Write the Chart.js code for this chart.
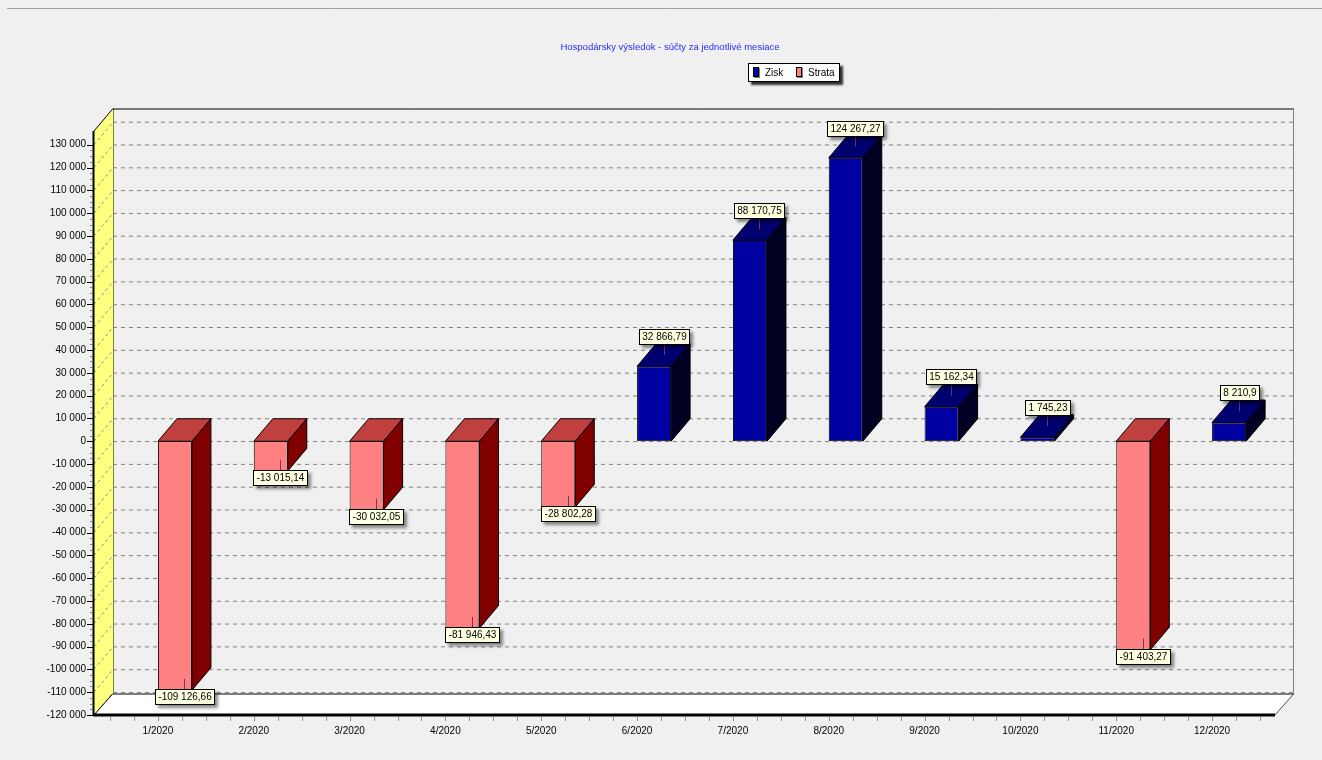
<!DOCTYPE html>
<html>
<head>
<meta charset="utf-8">
<title>Hospodársky výsledok</title>
<script src="https://cdn.jsdelivr.net/npm/chart.js@4.4.0/dist/chart.umd.min.js"></script>
<style>
  html, body { margin: 0; padding: 0; background: #f0f0f0; overflow: hidden; }
  #wrap { position: absolute; left: 0; top: 0; width: 1322px; height: 760px; }
</style>
</head>
<body>
<div id="wrap"><canvas id="hvChart" width="1322" height="760"></canvas></div>
<script>
// ---- data ----
const chartTitle = 'Hospodársky výsledok - súčty za jednotlivé mesiace';
const months = ['1/2020', '2/2020', '3/2020', '4/2020', '5/2020', '6/2020',
                '7/2020', '8/2020', '9/2020', '10/2020', '11/2020', '12/2020'];
const zisk   = [null, null, null, null, null, 32866.79, 88170.75, 124267.27, 15162.34, 1745.23, null, 8210.9];
const strata = [-109126.66, -13015.14, -30032.05, -81946.43, -28802.28, null, null, null, null, null, -91403.27, null];
const yTicks = [-120000, -110000, -100000, -90000, -80000, -70000, -60000, -50000, -40000,
                -30000, -20000, -10000, 0, 10000, 20000, 30000, 40000, 50000, 60000, 70000,
                80000, 90000, 100000, 110000, 120000, 130000];
const yMin = -120000;
const yMax = 136000;

// ---- look ----
const DX = 19, DY = -22.5;      // 3D depth offset
const ARROW = 10;               // mark arrow length
const FAMILY = '"Liberation Sans", Arial, sans-serif';
const FONT = '10px ' + FAMILY;
const faces = {
  Zisk:   { front: '#0000a0', top: '#000070', side: '#000022' },
  Strata: { front: '#ff8080', top: '#c04040', side: '#800000' }
};

// slovak style number: 124 267,27
function skNum(v) {
  const s = Math.abs(v).toFixed(2).replace(/\.?0+$/, '');
  const parts = s.split('.');
  let out = parts[0].replace(/\B(?=(\d{3})+(?!\d))/g, ' ');
  if (parts[1]) out += ',' + parts[1];
  return (v < 0 ? '-' : '') + out;
}

function poly(ctx, pts, fill, stroke, lw) {
  ctx.beginPath();
  ctx.moveTo(pts[0][0], pts[0][1]);
  for (let i = 1; i < pts.length; i++) ctx.lineTo(pts[i][0], pts[i][1]);
  ctx.closePath();
  if (fill) { ctx.fillStyle = fill; ctx.fill(); }
  if (stroke) { ctx.strokeStyle = stroke; ctx.lineWidth = lw || 1; ctx.stroke(); }
}

function seg(ctx, x1, y1, x2, y2, color, lw, dash) {
  ctx.beginPath();
  ctx.setLineDash(dash || []);
  ctx.moveTo(x1, y1);
  ctx.lineTo(x2, y2);
  ctx.strokeStyle = color;
  ctx.lineWidth = lw || 1;
  ctx.stroke();
  ctx.setLineDash([]);
}

const tee3d = {
  id: 'tee3d',
  beforeDraw(chart) {
    const ctx = chart.ctx, a = chart.chartArea, ys = chart.scales.y;
    // front plane of the box
    const fl = a.left - 16, fr = a.right + 15, ft = a.top, fb = a.bottom;
    const bl = fl + DX, br = fr + DX, bt = ft + DY, bb = fb + DY;
    ctx.save();

    // window frame line
    seg(ctx, 7, 8.5, chart.width, 8.5, '#a0a0a0', 1);

    // title
    ctx.font = '9.5px ' + FAMILY;
    ctx.fillStyle = '#2a2aff';
    ctx.textAlign = 'center';
    ctx.textBaseline = 'middle';
    ctx.fillText(chartTitle, 670, 47);

    // legend
    ctx.font = FONT;
    ctx.save();
    ctx.shadowColor = 'rgba(0,0,0,0.8)';
    ctx.shadowBlur = 2;
    ctx.shadowOffsetX = 3;
    ctx.shadowOffsetY = 3;
    ctx.fillStyle = '#fff';
    ctx.fillRect(748, 63, 92, 19);
    ctx.restore();
    ctx.strokeStyle = '#000';
    ctx.lineWidth = 1;
    ctx.strokeRect(748.5, 63.5, 91, 18);
    ctx.textAlign = 'left';
    let lx = 753;
    ['Zisk', 'Strata'].forEach(name => {
      ctx.save();
      ctx.shadowColor = 'rgba(0,0,0,0.5)';
      ctx.shadowOffsetX = 1;
      ctx.shadowOffsetY = 1;
      ctx.fillStyle = faces[name].front;
      ctx.fillRect(lx, 67, 6, 10);
      ctx.restore();
      ctx.strokeRect(lx + 0.5, 67.5, 5, 9);
      ctx.fillStyle = '#000';
      ctx.fillText(name, lx + 12, 73);
      lx += 43;
    });

    // back wall grid lines (dashed)
    ys.ticks.forEach(t => {
      const y = ys.getPixelForValue(t.value);
      seg(ctx, bl, y + DY, br, y + DY, '#808080', 1, [4, 4]);
    });

    // left wall
    poly(ctx, [[fl, ft], [bl, bt], [bl, bb], [fl, fb]], '#ffff80');
    ys.ticks.forEach(t => {
      const y = ys.getPixelForValue(t.value);
      seg(ctx, fl, y, bl, y + DY, '#909090', 1, [3, 3]);
    });
    seg(ctx, bl + 0.5, bt, bl + 0.5, bb, '#808040', 1);
    seg(ctx, fl, ft, bl, bt, '#000', 1);
    seg(ctx, fl - 0.5, ft, fl - 0.5, fb, '#000', 2);

    // back wall border
    seg(ctx, bl, bt + 0.5, br, bt + 0.5, '#000', 1);
    seg(ctx, br - 0.5, bt, br - 0.5, bb, '#808080', 1);

    // floor
    poly(ctx, [[fl, fb], [bl, bb + 1], [br, bb + 1], [fr, fb]], '#ffffff');
    seg(ctx, bl, bb + 1.5, br, bb + 1.5, '#000', 1);
    seg(ctx, br, bb + 1, fr, fb, '#505050', 1);
    seg(ctx, fl, fb, bl, bb + 1, '#000', 1);
    seg(ctx, fl - 1, fb, fr, fb, '#000', 3);

    // y axis tick marks
    ys.ticks.forEach((t, i) => {
      const y = Math.round(ys.getPixelForValue(t.value)) + 0.5;
      seg(ctx, fl - 7, y, fl - 1, y, '#000', 1);
      if (i < ys.ticks.length - 1) {
        const step = ys.ticks[i + 1].value - t.value;
        for (let k = 1; k < 4; k++) {
          const ym = Math.round(ys.getPixelForValue(t.value + k * step / 4)) + 0.5;
          seg(ctx, fl - 4, ym, fl - 1, ym, '#808080', 1);
        }
      }
    });

    // x axis tick marks under the floor
    const cw = (a.right - a.left) / months.length;
    for (let k = 0; k <= months.length * 4; k++) {
      const x = Math.round(a.left + k * cw / 4) + 0.5;
      seg(ctx, x, fb + 2, x, fb + 6, '#909090', 1);
    }
    ctx.restore();
  },

  // side and top faces of every bar
  beforeDatasetsDraw(chart) {
    const ctx = chart.ctx;
    ctx.save();
    chart.data.datasets.forEach((ds, i) => {
      const f = faces[ds.label];
      if (!f) return;
      chart.getDatasetMeta(i).data.forEach((bar, j) => {
        if (ds.data[j] == null) return;
        const l = bar.x - bar.width / 2, r = bar.x + bar.width / 2;
        const t = Math.min(bar.y, bar.base), b = Math.max(bar.y, bar.base);
        poly(ctx, [[l, t], [l + DX, t + DY], [r + DX, t + DY], [r, t]], f.top, '#000', 1);
        poly(ctx, [[r, t], [r + DX, t + DY], [r + DX, b + DY], [r, b]], f.side, '#000', 1);
      });
    });
    ctx.restore();
  },

  // value marks
  afterDatasetsDraw(chart) {
    const ctx = chart.ctx;
    ctx.save();
    ctx.font = FONT;
    ctx.textAlign = 'center';
    ctx.textBaseline = 'middle';
    chart.data.datasets.forEach((ds, i) => {
      if (!faces[ds.label]) return;
      chart.getDatasetMeta(i).data.forEach((bar, j) => {
        const v = ds.data[j];
        if (v == null) return;
        const txt = skNum(v);
        const bw = Math.round(ctx.measureText(txt).width + 7), bh = 16;
        const ax = Math.round(bar.x + DX / 2) + 0.5, ay = bar.y + DY / 2;
        const by = Math.round(v >= 0 ? ay - ARROW - bh : ay + ARROW);
        const bx = Math.round(ax - bw / 2);
        seg(ctx, ax, ay, ax, v >= 0 ? by + bh : by, '#6a3a6a', 1);
        ctx.save();
        ctx.shadowColor = 'rgba(0,0,0,0.45)';
        ctx.shadowBlur = 3;
        ctx.shadowOffsetX = 3;
        ctx.shadowOffsetY = 3;
        ctx.fillStyle = '#ffffe1';
        ctx.fillRect(bx, by, bw, bh);
        ctx.restore();
        ctx.strokeStyle = '#000';
        ctx.lineWidth = 1;
        ctx.strokeRect(bx + 0.5, by + 0.5, bw - 1, bh - 1);
        ctx.fillStyle = '#000';
        ctx.fillText(txt, bx + bw / 2, by + bh / 2 + 0.5);
      });
    });
    ctx.restore();
  }
};

new Chart(document.getElementById('hvChart'), {
  type: 'bar',
  data: {
    labels: months,
    datasets: [
      // empty stack on the left so the bars sit right of the category centre
      { label: '', data: months.map(() => null), stack: 'gap' },
      { label: 'Zisk', data: zisk, stack: 'hv', backgroundColor: faces.Zisk.front },
      { label: 'Strata', data: strata, stack: 'hv', backgroundColor: faces.Strata.front }
    ]
  },
  options: {
    responsive: false,
    animation: false,
    devicePixelRatio: 1,
    layout: { padding: { left: 10, right: 62, top: 131, bottom: 15 } },
    datasets: {
      bar: {
        categoryPercentage: 0.71,
        barPercentage: 1,
        borderColor: '#000',
        borderWidth: 1,
        borderSkipped: false
      }
    },
    plugins: {
      legend: { display: false },
      title: { display: false },
      tooltip: { enabled: false }
    },
    scales: {
      x: {
        grid: { display: false, drawTicks: false },
        border: { display: false },
        ticks: { color: '#000', font: { family: FAMILY, size: 10 }, padding: 10, maxRotation: 0, autoSkip: false },
        afterFit(s) { s.height = 30; }
      },
      y: {
        min: yMin,
        max: yMax,
        grid: { display: false, drawTicks: false },
        border: { display: false },
        ticks: {
          color: '#000',
          font: { family: FAMILY, size: 10 },
          padding: 24,
          callback: v => skNum(v)
        },
        afterBuildTicks(s) { s.ticks = yTicks.map(v => ({ value: v })); },
        afterFit(s) { s.width = 100; }
      }
    }
  },
  plugins: [tee3d]
});
</script>
</body>
</html>
